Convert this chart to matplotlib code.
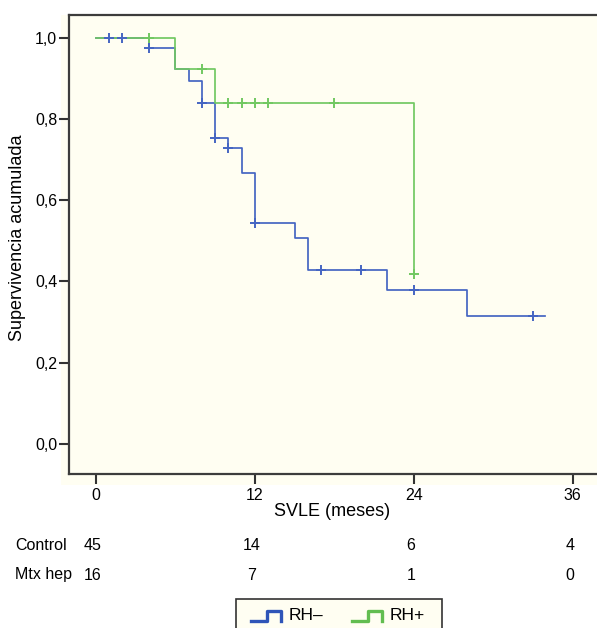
"""
Curvas de supervivencia (Kaplan-Meier) RH- / RH+.
"""
import numpy as np
import matplotlib
matplotlib.use("Agg")
import matplotlib.pyplot as plt
from matplotlib.patches import Rectangle
from matplotlib.lines import Line2D

plt.rcParams["font.family"] = ["Liberation Sans", "DejaVu Sans"]

# RH- (azul): tiempos de cambio y supervivencia tras cada cambio
rh_neg_t = [0, 4, 6, 7, 8, 9, 10, 11, 12, 15, 16, 22, 28, 33.9]
rh_neg_s = [1.0, 0.973, 0.922, 0.894, 0.838, 0.754, 0.727, 0.666,
            0.543, 0.506, 0.427, 0.380, 0.316, 0.316]
rh_neg_cens = [1, 2, 4, 8, 9, 10, 12, 17, 20, 24, 33]

# RH+ (verde)
rh_pos_t = [0, 6, 9, 24]
rh_pos_s = [1.0, 0.922, 0.838, 0.418]
rh_pos_cens = [4, 8, 10, 11, 12, 13, 18, 24]

# pacientes en riesgo
risk_times = [0, 12, 24, 36]
risk_control = [45, 14, 6, 4]
risk_mtx = [16, 7, 1, 0]

BLUE = "#4565c2"
GREEN = "#72c862"
BG = "#fffef2"
W, H = 597, 628


def px(x, y):
    """Pixel -> fracción de figura."""
    return x / W, 1 - y / H


def surv_at(times, surv, t):
    idx = np.searchsorted(times, t, side="right") - 1
    return np.asarray(surv)[idx]


fig = plt.figure(figsize=(W / 100, H / 100), dpi=100)
fig.patch.set_facecolor("white")

# fondo amarillo detrás del gráfico
x0, y0 = px(61, 485)
fig.patches.append(Rectangle((x0, y0), 1 - x0, (485 - 15) / H,
                             transform=fig.transFigure, facecolor=BG,
                             edgecolor="none", zorder=-5))

ax = fig.add_axes([69 / W, 1 - 474 / H, (W - 69) / W, (474 - 15) / H])
ax.set_zorder(1)
ax.set_facecolor(BG)
ax.set_xlim(-2.04, 37.84)
ax.set_ylim(-0.0738, 1.0554)

ax.step(rh_neg_t, rh_neg_s, where="post", color=BLUE, lw=1.25, zorder=3)
ax.step(rh_pos_t, rh_pos_s, where="post", color=GREEN, lw=1.25, zorder=4)
ax.plot(rh_neg_cens, surv_at(rh_neg_t, rh_neg_s, rh_neg_cens), "+",
        color=BLUE, ms=7, mew=1.4, zorder=5)
ax.plot(rh_pos_cens, surv_at(rh_pos_t, rh_pos_s, rh_pos_cens), "+",
        color=GREEN, ms=7, mew=1.4, zorder=6)

ax.set_xticks(risk_times)
ax.set_yticks([0, 0.2, 0.4, 0.6, 0.8, 1.0])
ax.set_yticklabels([f"{v:.1f}".replace(".", ",") for v in ax.get_yticks()])
ax.tick_params(axis="both", direction="out", length=7, width=1.5,
               color="#333333", labelsize=11.5)
ax.tick_params(axis="y", pad=1.5)
ax.tick_params(axis="x", pad=3)
ax.spines["right"].set_visible(False)
for side in ("left", "top", "bottom"):
    ax.spines[side].set_color("#3c3c3c")
    ax.spines[side].set_linewidth(1.6)

fig.text(*px(18, 238), "Supervivencia acumulada", rotation=90,
         ha="center", va="center", fontsize=13)
fig.text(*px(332, 512), "SVLE (meses)", ha="center", va="center",
         fontsize=13)

# tabla de pacientes en riesgo
for label, vals, ypix in (("Control", risk_control, 546),
                          ("Mtx hep", risk_mtx, 575)):
    fig.text(*px(15, ypix), label, ha="left", va="center", fontsize=11.5)
    yfig = px(0, ypix)[1]
    for t, v in zip(risk_times, vals):
        xfig = fig.transFigure.inverted().transform(
            ax.transData.transform((t, 0)))[0] - 3 / W
        fig.text(xfig, yfig, str(v), ha="center", va="center",
                 fontsize=11.5)

# leyenda
lx, ly = px(236, 640)
fig.patches.append(Rectangle((lx, ly), (442 - 236) / W, (640 - 599) / H,
                             transform=fig.transFigure, facecolor=BG,
                             edgecolor="#333333", lw=1.2, zorder=2))
for xs, color, txt in ((251, "#2f55b8", "RH\u2013"),
                       (352, "#62bd50", "RH+")):
    xx = [xs, xs + 16, xs + 16, xs + 30, xs + 30]
    yy = [621, 621, 611, 611, 621]
    fx = [px(a, b)[0] for a, b in zip(xx, yy)]
    fy = [px(a, b)[1] for a, b in zip(xx, yy)]
    fig.lines.append(Line2D(fx, fy, transform=fig.transFigure, color=color,
                            lw=2.4, zorder=3))
    fig.text(*px(xs + 38, 615.5), txt, ha="left", va="center", fontsize=12.5)

fig.savefig("out.png", dpi=100)
